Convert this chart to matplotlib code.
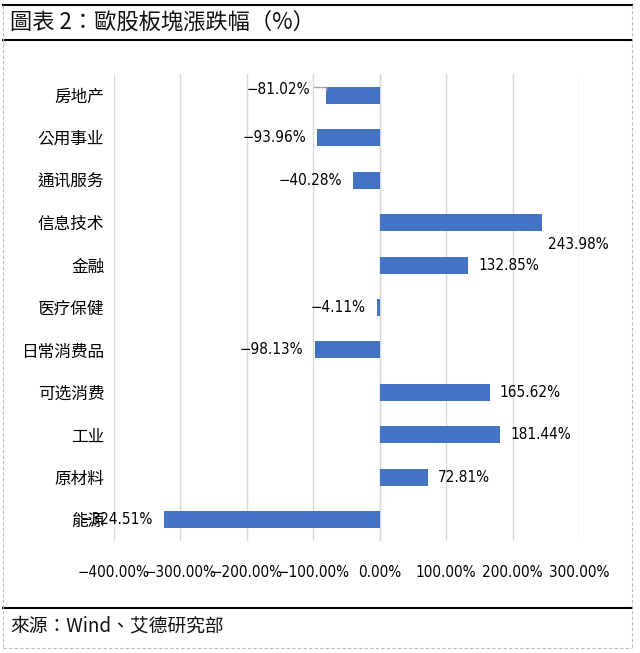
import matplotlib
matplotlib.use("Agg")
import matplotlib.pyplot as plt
from matplotlib.lines import Line2D
from matplotlib import font_manager

plt.rcParams['font.family'] = ['Noto Sans CJK TC', 'DejaVu Sans']

categories = ["房地产", "公用事业", "通讯服务", "信息技术", "金融", "医疗保健",
              "日常消费品", "可选消费", "工业", "原材料", "能源"]
values = [-81.02, -93.96, -40.28, 243.98, 132.85, -4.11,
          -98.13, 165.62, 181.44, 72.81, -324.51]
xticks = [-400, -300, -200, -100, 0, 100, 200, 300]
title = "圖表 2：歐股板塊漲跌幅（%）"
source = "來源：Wind、艾德研究部"

names = {f.name for f in font_manager.fontManager.ttflist}
if 'Liberation Sans Narrow' in names:
    NUMFONT = dict(family=['Liberation Sans Narrow', 'DejaVu Sans'], fontsize=13)
else:
    NUMFONT = dict(family=['DejaVu Sans'], fontstretch='condensed', fontsize=11)

W, H = 640, 653
fig = plt.figure(figsize=(W / 100, H / 100), dpi=100)

def fx(px):
    return px / W

def fy(py):
    return 1 - py / H

# frame lines
fig.add_artist(Line2D([fx(3), fx(632)], [fy(5), fy(5)], color='black', lw=1.5))
fig.add_artist(Line2D([fx(3), fx(632)], [fy(40), fy(40)], color='black', lw=1.5))
fig.add_artist(Line2D([fx(3), fx(632)], [fy(608), fy(608)], color='black', lw=1.5))
fig.add_artist(Line2D([fx(2.5), fx(2.5)], [fy(5), fy(648)], color='#bbbbbb', lw=0.8, ls=(0, (3, 2))))
fig.add_artist(Line2D([fx(632), fx(632)], [fy(5), fy(648)], color='#bbbbbb', lw=0.8, ls=(0, (3, 2))))
fig.add_artist(Line2D([fx(2.5), fx(632)], [fy(648), fy(648)], color='#bbbbbb', lw=0.8, ls=(0, (3, 2))))

fig.text(fx(10), fy(22), title, fontsize=16, va='center', ha='left', color='#111111')
fig.text(fx(10), fy(626), source, fontsize=13.5, va='center', ha='left', color='#111111')

ax = fig.add_axes([fx(114), fy(541), fx(579) - fx(114), fy(74) - fy(541)])
y = list(range(len(categories)))
ax.barh(y, values, height=0.4, color='#4472C4', zorder=3)
ax.set_ylim(len(categories) - 0.5, -0.5)
ax.set_xlim(-400, 300)
ax.set_xticks(xticks)
ax.set_xticklabels([f"{v:.2f}%".replace('-', '−') for v in xticks], **NUMFONT)
ax.set_yticks(y)
ax.set_yticklabels(categories, fontsize=12)
ax.tick_params(axis='both', length=0)
ax.tick_params(axis='y', pad=7)
ax.tick_params(axis='x', pad=17)
for s in ax.spines.values():
    s.set_visible(False)
ax.grid(axis='x', color='#d9d9d9', lw=1, zorder=0)
ax.axvline(0, color='#d9d9d9', lw=1, zorder=1)

for i, v in enumerate(values):
    txt = f"{v:.2f}%".replace('-', '−')
    if categories[i] == "信息技术":
        ax.annotate(txt, (v, i), xytext=(6, -22), textcoords='offset pixels',
                    ha='left', va='center', **NUMFONT)
    elif categories[i] == "房地产":
        ax.annotate(txt, (v, i), xytext=(-16, 6), textcoords='offset pixels',
                    ha='right', va='center', **NUMFONT)
        ax.annotate("", (v, i - 0.05), xytext=(-15, 6), textcoords='offset pixels',
                    arrowprops=dict(arrowstyle='-', color='#a6a6a6', lw=1,
                                    connectionstyle='angle,angleA=0,angleB=90,rad=0'))
    elif v >= 0:
        ax.annotate(txt, (v, i), xytext=(10, 0), textcoords='offset pixels',
                    ha='left', va='center', **NUMFONT)
    else:
        ax.annotate(txt, (v, i), xytext=(-11, 0), textcoords='offset pixels',
                    ha='right', va='center', **NUMFONT)

fig.savefig("out.png", dpi=100)
